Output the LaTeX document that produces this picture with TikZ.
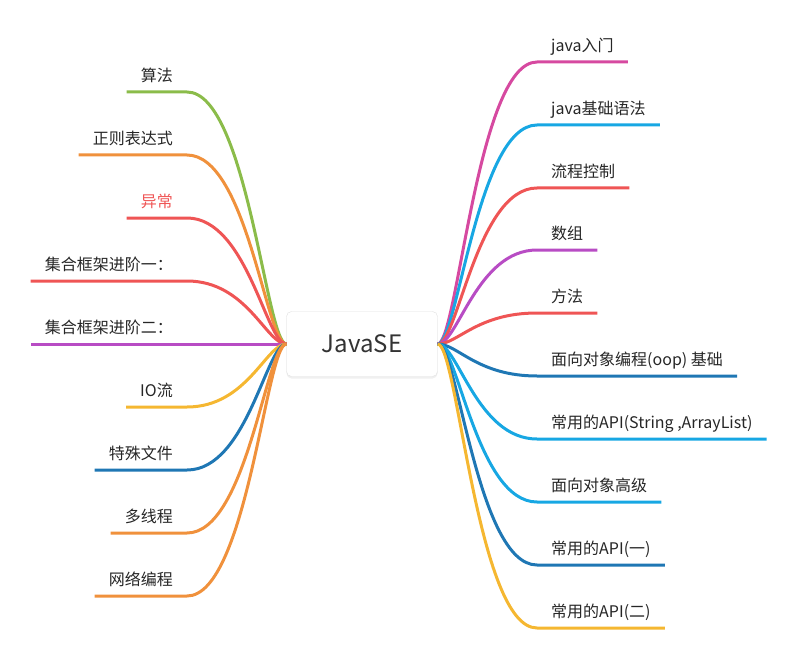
\documentclass[tikz,border=0pt]{standalone}
\usepackage{fontspec}
\setmainfont{Noto Sans CJK SC}
\usetikzlibrary{shadows}
\definecolor{cMag}{RGB}{214,73,160}
\definecolor{cCyan}{RGB}{23,167,227}
\definecolor{cRed}{RGB}{239,85,85}
\definecolor{cPur}{RGB}{184,76,196}
\definecolor{cBlue}{RGB}{31,119,180}
\definecolor{cGrn}{RGB}{139,188,74}
\definecolor{cOrg}{RGB}{240,145,60}
\definecolor{cYel}{RGB}{245,183,49}
\begin{document}
\begin{tikzpicture}[x=1pt,y=-1pt,
    lbl/.style={inner xsep=14pt,inner ysep=0pt,text height=16pt,text depth=10pt,
      font=\fontsize{16}{19}\selectfont,text=black!85},
    rbr/.style={lbl,anchor=south west},
    lbr/.style={lbl,anchor=south east},
    link/.style={line width=3pt,line join=round},
    root/.style={draw=black!12,fill=white,rounded corners=5pt,minimum width=151pt,
      minimum height=65pt,font=\fontsize{24}{28}\selectfont,text=black!80,
      drop shadow={shadow xshift=0pt,shadow yshift=-2pt,opacity=0.12}}]
  \useasboundingbox (0,0) rectangle (799,660);
  \node[root] (root) at (362,344) {JavaSE};
  % right side
  \node[rbr] (r1) at (537,62) {java入门};
  \node[rbr] (r2) at (537,125) {java基础语法};
  \node[rbr] (r3) at (537,188) {流程控制};
  \node[rbr] (r4) at (537,250) {数组};
  \node[rbr] (r5) at (537,313) {方法};
  \node[rbr] (r6) at (537,376) {面向对象编程(oop) 基础};
  \node[rbr] (r7) at (537,439) {常用的API(String ,ArrayList)};
  \node[rbr] (r8) at (537,502) {面向对象高级};
  \node[rbr] (r9) at (537,565) {常用的API(一)};
  \node[rbr] (r10) at (537,628) {常用的API(二)};
  \draw[link,cMag] (root.east) .. controls +(20,0) and +(-60,0) .. (r1.south west) -- (r1.south east);
  \draw[link,cCyan] (root.east) .. controls +(20,0) and +(-60,0) .. (r2.south west) -- (r2.south east);
  \draw[link,cRed] (root.east) .. controls +(20,0) and +(-60,0) .. (r3.south west) -- (r3.south east);
  \draw[link,cPur] (root.east) .. controls +(20,0) and +(-60,0) .. (r4.south west) -- (r4.south east);
  \draw[link,cRed] (root.east) .. controls +(20,0) and +(-60,0) .. (r5.south west) -- (r5.south east);
  \draw[link,cBlue] (root.east) .. controls +(20,0) and +(-60,0) .. (r6.south west) -- (r6.south east);
  \draw[link,cCyan] (root.east) .. controls +(20,0) and +(-60,0) .. (r7.south west) -- (r7.south east);
  \draw[link,cCyan] (root.east) .. controls +(20,0) and +(-60,0) .. (r8.south west) -- (r8.south east);
  \draw[link,cBlue] (root.east) .. controls +(20,0) and +(-60,0) .. (r9.south west) -- (r9.south east);
  \draw[link,cYel] (root.east) .. controls +(20,0) and +(-60,0) .. (r10.south west) -- (r10.south east);
  % left side
  \node[lbr] (l1) at (187,92) {算法};
  \node[lbr] (l2) at (187,155) {正则表达式};
  \node[lbr,text=cRed] (l3) at (187,218) {异常};
  \node[lbr] (l4) at (187,281) {集合框架进阶一：};
  \node[lbr] (l5) at (187,344) {集合框架进阶二：};
  \node[lbr] (l6) at (187,407) {IO流};
  \node[lbr] (l7) at (187,470) {特殊文件};
  \node[lbr] (l8) at (187,533) {多线程};
  \node[lbr] (l9) at (187,596) {网络编程};
  \draw[link,cGrn] (root.west) .. controls +(-20,0) and +(60,0) .. (l1.south east) -- (l1.south west);
  \draw[link,cOrg] (root.west) .. controls +(-20,0) and +(60,0) .. (l2.south east) -- (l2.south west);
  \draw[link,cRed] (root.west) .. controls +(-20,0) and +(60,0) .. (l3.south east) -- (l3.south west);
  \draw[link,cRed] (root.west) .. controls +(-20,0) and +(60,0) .. (l4.south east) -- (l4.south west);
  \draw[link,cPur] (root.west) .. controls +(-20,0) and +(60,0) .. (l5.south east) -- (l5.south west);
  \draw[link,cYel] (root.west) .. controls +(-20,0) and +(60,0) .. (l6.south east) -- (l6.south west);
  \draw[link,cBlue] (root.west) .. controls +(-20,0) and +(60,0) .. (l7.south east) -- (l7.south west);
  \draw[link,cOrg] (root.west) .. controls +(-20,0) and +(60,0) .. (l8.south east) -- (l8.south west);
  \draw[link,cOrg] (root.west) .. controls +(-20,0) and +(60,0) .. (l9.south east) -- (l9.south west);
\end{tikzpicture}
\end{document}
